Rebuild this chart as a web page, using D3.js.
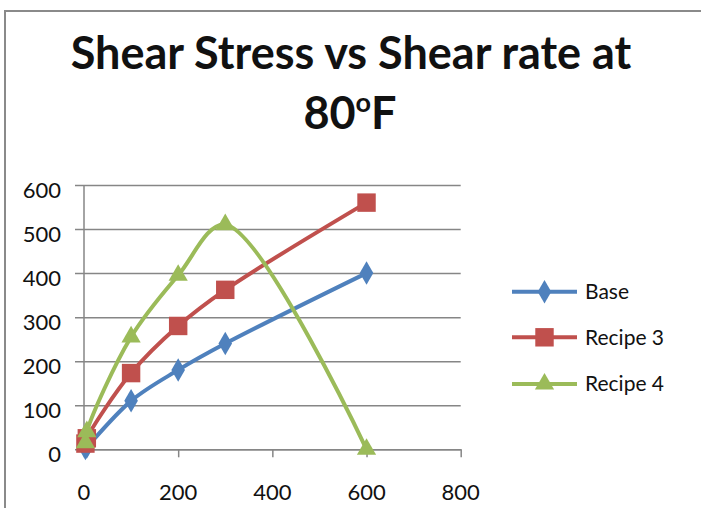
<!DOCTYPE html>
<html>
<head>
<meta charset="utf-8">
<script src="https://cdn.jsdelivr.net/npm/d3@7"></script>
<style>
  html, body { margin: 0; padding: 0; background: #fff; }
  svg { display: block; }
  text { font-family: Lato, "Open Sans", sans-serif; fill: #111; }
</style>
</head>
<body>
<svg id="chart" width="701" height="508"></svg>
<script>
// Shear rate readings (x) and the shear stress of each sample (y)
const shearRate = [3, 6, 100, 200, 300, 600];
const baseStress = [2, 5, 110, 180, 240, 400];
const recipe3Stress = [13, 25, 173, 280, 362, 560];
const recipe4Stress = [15, 40, 255, 395, 510, 0];

const seriesNames = ["Base", "Recipe 3", "Recipe 4"];
const seriesColors = ["#4F81BD", "#C0504D", "#9BBB59"];
const xTicks = [0, 200, 400, 600, 800];
const yTicks = [0, 100, 200, 300, 400, 500, 600];

const series = [baseStress, recipe3Stress, recipe4Stress].map((vals, i) => ({
  name: seriesNames[i],
  color: seriesColors[i],
  points: shearRate.map((x, j) => ({ x, y: vals[j] }))
}));

const svg = d3.select("#chart");
svg.append("rect").attr("width", 701).attr("height", 508).attr("fill", "#fff");

// chart area frame (top and left edges visible)
svg.append("path")
  .attr("d", "M5,508 V11 H701")
  .attr("fill", "none").attr("stroke", "#8a8a8a").attr("stroke-width", 2);

// title
const title = svg.append("text")
  .attr("text-anchor", "middle")
  .style("font-weight", "bold")
  .style("font-size", "45px");
title.append("tspan").attr("x", 351).attr("y", 69).text("Shear Stress vs Shear rate at");
const line2 = title.append("tspan").attr("x", 350).attr("y", 129);
line2.append("tspan").text("80");
line2.append("tspan").attr("dy", -17).style("font-size", "27px").text("o");
line2.append("tspan").attr("dy", 17).text("F");

const x = d3.scaleLinear().domain([0, 800]).range([84, 460.7]);
const y = d3.scaleLinear().domain([0, 600]).range([449.3, 185]);

const gridColor = "#868686";

// horizontal gridlines with outside tick marks
svg.append("g")
  .attr("transform", `translate(${x(0)},0)`)
  .call(d3.axisLeft(y).tickValues(yTicks).tickSizeInner(-(x(800) - x(0))).tickSizeOuter(0).tickFormat(""))
  .call(g => g.select(".domain").remove())
  .call(g => g.selectAll(".tick line").attr("stroke", gridColor).attr("stroke-width", 1.5)
    .attr("x1", -9));

// y axis line and labels
svg.append("line")
  .attr("x1", x(0)).attr("x2", x(0)).attr("y1", y(600)).attr("y2", y(0))
  .attr("stroke", gridColor).attr("stroke-width", 1.5);
svg.append("g").selectAll("text").data(yTicks).join("text")
  .attr("x", 61).attr("y", d => y(d) + 5)
  .attr("dy", "0.35em")
  .attr("text-anchor", "end")
  .style("font-size", "22px")
  .text(d => d);

// x axis
svg.append("g")
  .attr("transform", `translate(0,${y(0)})`)
  .call(d3.axisBottom(x).tickValues(xTicks).tickSizeInner(8).tickSizeOuter(0).tickPadding(0).tickFormat(""))
  .call(g => g.select(".domain").attr("stroke", gridColor).attr("stroke-width", 1.5))
  .call(g => g.selectAll(".tick line").attr("stroke", gridColor).attr("stroke-width", 1.5));
svg.append("g").selectAll("text").data(xTicks).join("text")
  .attr("x", d => x(d)).attr("y", 500)
  .attr("text-anchor", "middle")
  .style("font-size", "22px")
  .text(d => d);

// marker shape for each series: diamond, square, triangle
const markerTypes = [d3.symbolDiamond, d3.symbolSquare, d3.symbolTriangle];
const markerSizes = [160, 340, 160];
function drawMarker(sel, i) {
  sel.append("path")
    .attr("d", d3.symbol().type(markerTypes[i]).size(markerSizes[i])())
    .attr("fill", seriesColors[i]);
}

const line = d3.line()
  .x(d => x(d.x)).y(d => y(d.y))
  .curve(d3.curveCatmullRom.alpha(0.5));

series.forEach((s, i) => {
  const g = svg.append("g");
  g.append("path")
    .attr("d", line(s.points))
    .attr("fill", "none")
    .attr("stroke", s.color)
    .attr("stroke-width", 4)
    .attr("stroke-linejoin", "round");
  g.selectAll("g.pt").data(s.points).join("g")
    .attr("class", "pt")
    .attr("transform", d => `translate(${x(d.x)},${y(d.y)})`)
    .each(function () { drawMarker(d3.select(this), i); });
});

// legend
const legendY = [291.7, 337.3, 384];
series.forEach((s, i) => {
  const g = svg.append("g").attr("transform", `translate(0,${legendY[i]})`);
  g.append("line").attr("x1", 512).attr("x2", 577).attr("y1", 0).attr("y2", 0)
    .attr("stroke", s.color).attr("stroke-width", 4);
  const m = g.append("g").attr("transform", "translate(544.5,0)");
  drawMarker(m, i);
  g.append("text").attr("x", 585).attr("y", 0).attr("dy", "0.35em")
    .style("font-size", "21px").text(s.name);
});
</script>
</body>
</html>
